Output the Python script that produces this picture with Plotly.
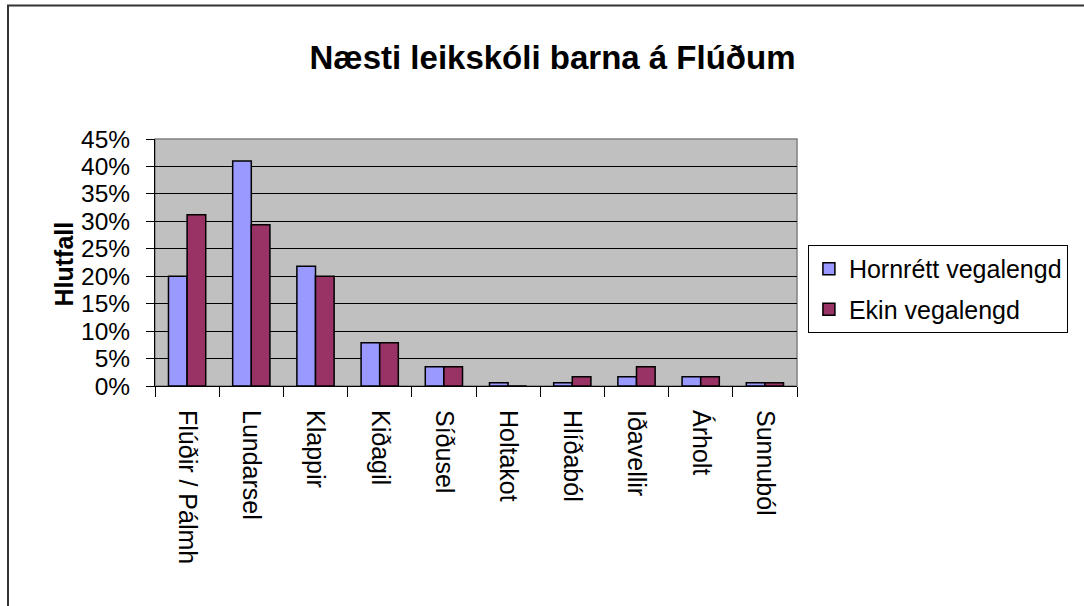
import plotly.graph_objects as go

# leikskólar og hlutföll (lesið af myndinni)
leikskolar = ["Flúðir / Pálmh", "Lundarsel", "Klappir", "Kiðagil", "Síðusel",
              "Holtakot", "Hlíðaból", "Iðavellir", "Árholt", "Sunnuból"]
hornrett = [0.200, 0.410, 0.218, 0.079, 0.035, 0.006, 0.006, 0.017, 0.017, 0.006]
ekin = [0.312, 0.294, 0.200, 0.079, 0.035, 0.0, 0.017, 0.035, 0.017, 0.006]
y_ticks = [0, 0.05, 0.10, 0.15, 0.20, 0.25, 0.30, 0.35, 0.40, 0.45]

FONT = "Liberation Sans, Arial, sans-serif"

fig = go.Figure()
fig.add_trace(go.Bar(
    x=leikskolar, y=hornrett, name="Hornrétt vegalengd",
    marker=dict(color="#9999FF", line=dict(color="black", width=1.5)),
    legendgroup="a"
))
fig.add_trace(go.Bar(
    x=leikskolar, y=ekin, name="Ekin vegalengd",
    marker=dict(color="#993366", line=dict(color="black", width=1.5)),
    legendgroup="b"
))

# plotsvæði: l=155, r=797, t=139, b=386 (px)
fig.update_layout(
    width=1084, height=606,
    margin=dict(l=155, r=287, t=139, b=220),
    paper_bgcolor="white",
    plot_bgcolor="#C0C0C0",
    font=dict(family=FONT, color="black", size=24),
    barmode="group", bargap=0.42, bargroupgap=0,
    showlegend=True,
    title=dict(text="<b>Næsti leikskóli barna á Flúðum</b>",
               x=552.5 / 1084, xanchor="center", y=1 - 57 / 606, yanchor="middle",
               font=dict(size=33, family=FONT, color="black")),
    legend=dict(x=1.017, xanchor="left", y=0.571, yanchor="top",
                bordercolor="black", borderwidth=1, bgcolor="white",
                font=dict(size=25, family=FONT), traceorder="grouped",
                tracegroupgap=5),
    hovermode=False,
)

fig.update_xaxes(
    type="category", tickangle=90, ticks="outside", tickson="boundaries",
    ticklen=10, tickcolor="black", showline=True, linecolor="black",
    linewidth=1, showgrid=False, ticklabelstandoff=18,
    tickfont=dict(size=25, family=FONT)
)
fig.update_yaxes(
    range=[0, 0.45], tickvals=y_ticks, tickformat=".0%", ticks="outside",
    ticklen=8, tickcolor="black", showline=True, linecolor="black",
    linewidth=1, showgrid=True, gridcolor="black", gridwidth=1,
    zeroline=False, ticklabelstandoff=11,
    tickfont=dict(size=24.5, family=FONT)
)

# y-ás titill
fig.add_annotation(
    text="<b>Hlutfall</b>", xref="paper", yref="paper",
    x=(47.5 - 155) / 642, y=(386 - 264) / 247, textangle=-90, showarrow=False,
    font=dict(size=25, family=FONT, color="black")
)

# grár rammi um plotsvæðið og ytri rammi
fig.add_shape(type="rect", xref="paper", yref="paper", x0=0, x1=1, y0=0, y1=1,
              line=dict(color="#808080", width=1.5), layer="below")
fig.add_shape(type="rect", xref="paper", yref="paper",
              x0=(8 - 155) / 642, x1=1.6, y0=-1.2, y1=(386 - 5.5) / 247,
              line=dict(color="#333333", width=2))

# taka burt sjálfgefna 8px spássíu síðunnar, og engin tækjastika
fig.write_html("out.html", config={"displayModeBar": False},
               post_script="document.body.style.margin='0';")
